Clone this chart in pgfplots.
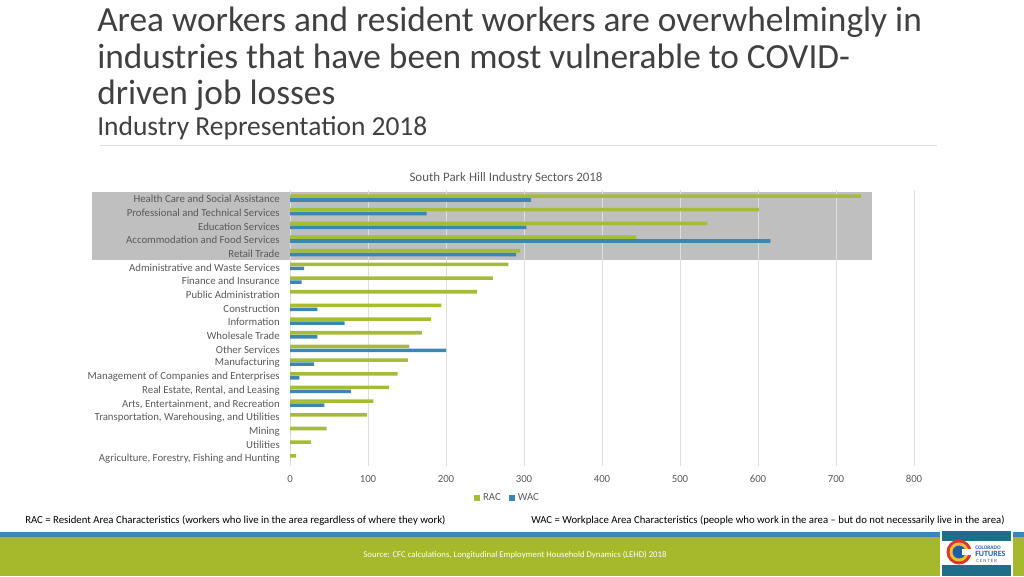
\documentclass[border=0pt]{standalone}
\usepackage{pgfplots}
\pgfplotsset{compat=1.18}
\usepackage{fontspec}
\setmainfont{Carlito}
\definecolor{rac}{HTML}{A5BD32}
\definecolor{wac}{HTML}{3D86B4}
\definecolor{hl}{HTML}{BFBFBF}
\definecolor{gridc}{HTML}{DEDEDE}
\definecolor{txt}{HTML}{595959}
\definecolor{ttl}{HTML}{404040}
\definecolor{band}{HTML}{A6B92A}
\definecolor{stripe}{HTML}{3D86B3}
\definecolor{logoteal}{HTML}{1E6E8A}
\definecolor{logored}{HTML}{D9382B}
\definecolor{logoyel}{HTML}{F2C12E}
\definecolor{logoblue}{HTML}{1F5FA8}
\begin{document}
\begin{tikzpicture}
\begin{scope}[x=0.75pt,y=-0.75pt]
\useasboundingbox (0,0) rectangle (1024,576);
% titles
\node[anchor=base west, inner sep=0, text=ttl, font=\fontsize{26.5}{30}\selectfont] at (97,31) {Area workers and resident workers are overwhelmingly in};
\node[anchor=base west, inner sep=0, text=ttl, font=\fontsize{26.5}{30}\selectfont] at (97,68) {industries that have been most vulnerable to COVID-};
\node[anchor=base west, inner sep=0, text=ttl, font=\fontsize{26.5}{30}\selectfont] at (97,104) {driven job losses};
\node[anchor=base west, inner sep=0, text=ttl, font=\fontsize{20.6}{22}\selectfont] at (97,135.5) {Industry Representation 2018};
\draw[gridc, line width=1.2pt] (100,145.5) -- (937,145.5);
% chart title
\node[anchor=base, inner sep=0, text=txt, font=\fontsize{9.7}{11}\selectfont] at (506,181.5) {South Park Hill Industry Sectors 2018};
% footnotes
\node[anchor=base west, inner sep=0, text=black, font=\fontsize{8.05}{9}\selectfont] at (25,523) {RAC = Resident Area Characteristics (workers who live in the area regardless of where they work)};
\node[anchor=base west, inner sep=0, text=black, font=\fontsize{8.05}{9}\selectfont] at (531,523) {WAC = Workplace Area Characteristics (people who work in the area -- but do not necessarily live in the area)};
% bottom band
\fill[stripe] (0,531.5) rectangle (1024,537);
\fill[band] (0,537) rectangle (1024,576);
\node[anchor=base, inner sep=0, text=white, font=\fontsize{6.55}{7}\selectfont] at (515,557.5) {Source: CFC calculations, Longitudinal Employment Household Dynamics (LEHD) 2018};
% logo
\fill[white] (940,529.5) rectangle (1013,576);
\fill[logoteal] (942,531) rectangle (1011,576);
\fill[white] (942,541) rectangle (1011,565);
\fill[logored] (959,552) circle (12.5);
\fill[logoyel] (959,552) circle (9.5);
\fill[logoblue] (959,552) circle (6.5);
\fill[white] (962,549) rectangle (972,555);
\node[anchor=base west, inner sep=0, text=logoblue, font=\bfseries\fontsize{4}{4}\selectfont] at (975,549) {COLORADO};
\node[anchor=base west, inner sep=0, text=logoblue, font=\bfseries\fontsize{6}{6}\selectfont] at (975,556) {FUTURES};
\node[anchor=base west, inner sep=0, text=logoblue, font=\fontsize{3.6}{4}\selectfont] at (976,562) {C E N T E R};
\end{scope}
\begin{axis}[
  at={(217.5pt,-142.35pt)}, anchor=north west,
  scale only axis, width=468pt, height=207.15pt,
  xmin=0, xmax=800, ymin=-0.6, ymax=19.6,
  clip=false, set layers,
  axis line style={draw=none},
  xtick={0,100,...,800},
  ytick={0,...,19},
  yticklabels={{Agriculture, Forestry, Fishing and Hunting},Utilities,Mining,{Transportation, Warehousing, and Utilities},{Arts, Entertainment, and Recreation},{Real Estate, Rental, and Leasing},Management of Companies and Enterprises,Manufacturing,Other Services,Wholesale Trade,Information,Construction,Public Administration,Finance and Insurance,Administrative and Waste Services,Retail Trade,Accommodation and Food Services,Education Services,Professional and Technical Services,Health Care and Social Assistance},
  major tick length=0pt,
  tick style={draw=none},
  xmajorgrids, grid style={gridc, line width=0.75pt},
  every tick label/.append style={font=\fontsize{8.1}{9}\selectfont, text=txt, inner sep=0pt},
  yticklabel shift=7.5pt, xticklabel shift=7pt,
  y tick label style={yshift=-0.8pt},
  /pgf/number format/assume math mode=true,
  bar width=0.26,
  legend style={at={(0.349,-0.115)}, anchor=center, draw=none, fill=none, legend columns=2, font=\fontsize{8.1}{9}\selectfont, text=txt, inner sep=0pt, /tikz/every even column/.append style={column sep=4pt}},
  legend image code/.code={\fill[#1] (0pt,-2.4pt) rectangle (4.8pt,2.4pt);},
]
\addplot[fill=hl, draw=none, sharp plot, on layer=axis background, forget plot] coordinates {(-253.8,14.47) (746.2,14.47) (746.2,19.44) (-253.8,19.44)} -- cycle;
\addplot[xbar, bar shift=0.145, fill=rac, draw=none] coordinates {
(8,0) (27,1) (47,2) (99,3) (107,4) (127,5) (138,6) (151,7) (153,8) (169,9)
(181,10) (194,11) (240,12) (260,13) (280,14) (295,15) (444,16) (535,17) (601,18) (732,19)};
\addplot[xbar, bar shift=-0.145, fill=wac, draw=none] coordinates {
(0,0) (0,1) (0,2) (0,3) (44,4) (78,5) (12,6) (31,7) (200,8) (35,9)
(70,10) (35,11) (0,12) (15,13) (18,14) (290,15) (616,16) (303,17) (175,18) (309,19)};
\legend{RAC,WAC}
\end{axis}
\end{tikzpicture}
\end{document}
